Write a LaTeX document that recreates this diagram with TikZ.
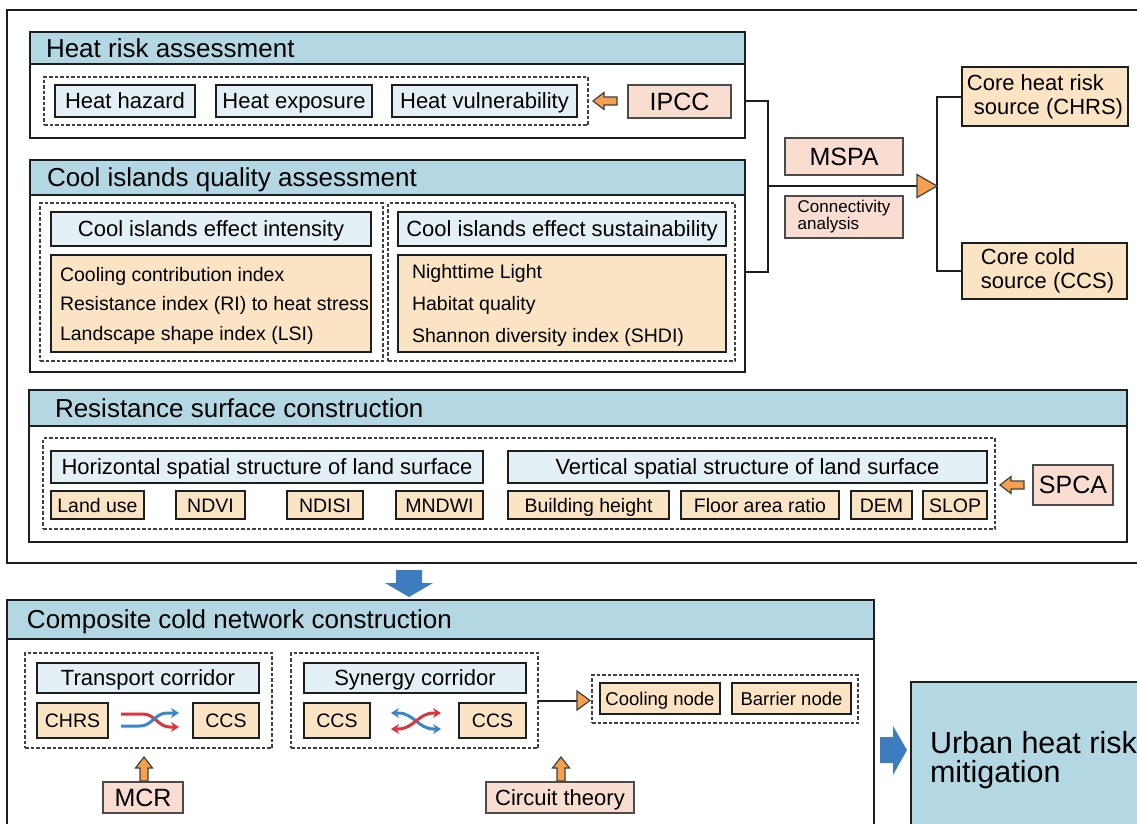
\documentclass[tikz,border=0pt]{standalone}
\usepackage{fontspec}
\setmainfont{Liberation Sans}
\usetikzlibrary{calc,arrows.meta}
\definecolor{hdr}{HTML}{B4D8E3}
\definecolor{lblue}{HTML}{E3F1F6}
\definecolor{tanb}{HTML}{FBE4C4}
\definecolor{pinkb}{HTML}{F9DDD0}
\definecolor{aor}{HTML}{F5A04E}
\definecolor{bluea}{HTML}{3E7CC0}
\definecolor{redi}{HTML}{D9363E}
\definecolor{bluei}{HTML}{3A86C8}
\definecolor{ink}{HTML}{1E1E1E}
\newcommand\fT{\fontsize{26}{30}\selectfont}
\newcommand\fH{\fontsize{22}{24}\selectfont}
\newcommand\fL{\fontsize{19.5}{23}\selectfont}
\newcommand\fS{\fontsize{18.5}{22}\selectfont}
\newcommand\fP{\fontsize{25}{28}\selectfont}
\newcommand\fU{\fontsize{30.5}{32}\selectfont}
\newcommand\fC{\fontsize{17}{15}\selectfont}
\newcommand\rbox[7]{\node[#6,minimum width={#4-#2},minimum height={#5-#3},inner sep=0pt,outer sep=0pt] (#1) at ({(#2+#4)/2},{(#3+#5)/2}) {#7};}
\tikzset{
  sec/.style={draw=ink,line width=2.4pt,fill=white},
  hdrs/.style={draw=ink,line width=2.4pt,fill=hdr},
  lb/.style={draw=ink,line width=2.2pt,fill=lblue},
  tb/.style={draw=ink,line width=2.2pt,fill=tanb},
  pb/.style={draw=ink!80,line width=1.6pt,fill=pinkb},
  dbox/.style={draw=ink!85,line width=1.1pt,dash pattern=on 3.5pt off 2pt},
  conn/.style={draw=ink,line width=2pt},
  tH/.style={font=\fH,text height=15.8pt,text depth=0pt},
  tL/.style={font=\fL,text height=14pt,text depth=0pt},
  tS/.style={font=\fS,text height=13.2pt,text depth=0pt},
  tP/.style={font=\fP,text height=17.9pt,text depth=0pt},
  trishape/.style={draw=ink!85,fill=aor,line width=1.2pt,line join=miter},
  txt/.style={inner sep=0pt,outer sep=0pt},
  oarr/.pic={\path[draw=ink!85,fill=aor,line width=1.2pt,line join=miter] (0,0) -- (11,-8.5) -- (11,-4) -- (24,-4) -- (24,4) -- (11,4) -- (11,8.5) -- cycle;},
  icon/.style={line width=3pt,-{Stealth[length=8pt,width=10pt]}},
  icon2/.style={line width=3pt,{Stealth[length=8pt,width=10pt]}-{Stealth[length=8pt,width=10pt]}}
}
\begin{document}
\begin{tikzpicture}[x=1pt,y=-1pt]
\useasboundingbox (0,0) rectangle (1137,823);
\fill[white] (0,0) rectangle (1137,823);
\clip (0,0) rectangle (1137,823);
% outer frame
\rbox{outer}{7}{10}{1150}{563}{sec}{}
% Heat risk assessment
\rbox{hrb}{30}{64}{745}{138}{sec}{}
\rbox{hrh}{30}{32}{745}{64}{hdrs}{}
\node[txt,anchor=base west,font=\fT] (hrt) at (46,57) {Heat risk assessment};
\rbox{hid}{44}{77}{588}{125}{dbox}{}
\rbox{hh}{55}{85}{195}{117}{lb,tH}{Heat hazard}
\rbox{he}{216}{85}{372}{117}{lb,tH}{Heat exposure}
\rbox{hv}{392}{85}{577}{117}{lb,tH}{Heat vulnerability}
\rbox{ipcc}{628}{85}{731}{118}{pb,tP}{IPCC}
\pic at (593,101) {oarr};
% Cool islands quality assessment
\rbox{cib}{30}{195}{745}{372}{sec}{}
\rbox{cih}{30}{160}{745}{195}{hdrs}{}
\node[txt,anchor=base west,font=\fT] (cit) at (47,186) {Cool islands quality assessment};
\rbox{cdl}{40}{203}{383}{361}{dbox}{}
\rbox{cdr}{388}{203}{735}{361}{dbox}{}
\rbox{cih1}{51}{212}{371}{246}{lb,tH}{Cool islands effect intensity}
\rbox{cih2}{398}{212}{726}{246}{lb,tH}{Cool islands effect sustainability}
\rbox{cil1}{51}{255}{371}{352}{tb}{}
\rbox{cil2}{398}{255}{726}{352}{tb}{}
\node[txt,anchor=base west,font=\fL] (ci1) at (60,281) {Cooling contribution index};
\node[txt,anchor=base west,font=\fL] (ci2) at (60,310) {Resistance index (RI) to heat stress};
\node[txt,anchor=base west,font=\fL] (ci3) at (60,340) {Landscape shape index (LSI)};
\node[txt,anchor=base west,font=\fL] (cs1) at (412,278) {Nighttime Light};
\node[txt,anchor=base west,font=\fL] (cs2) at (412,310) {Habitat quality};
\node[txt,anchor=base west,font=\fL] (cs3) at (412,342) {Shannon diversity index (SHDI)};
% MSPA and sources
\rbox{mspa}{785}{138}{903}{175}{pb,tP}{MSPA}
\rbox{conna}{785}{196}{903}{238}{pb,font=\fC,align=left}{Connectivity\\analysis}
\rbox{chrs}{962}{67}{1128}{126}{tb,font=\fH,align=left}{Core heat risk\\\hspace*{7pt}source (CHRS)}
\rbox{ccs}{962}{243}{1127}{299}{tb,font=\fH,align=left}{\hspace*{6pt}Core cold\\\hspace*{6pt}source (CCS)}
\coordinate (j1) at (768,186);
\coordinate (tb1) at (917,186);
\coordinate (tp1) at (937,186);
\draw[conn] (hrb.east) -| (j1) |- ([yshift=12pt]cib.east);
\draw[conn] (j1) -- (tb1);
\draw[conn] (chrs.west) -| (tp1) |- (ccs.west);
\draw[trishape] (917,174.5) -- (tp1) -- (917,197.5) -- cycle;
% Resistance surface construction
\rbox{rsb}{29}{426}{1127}{542}{sec}{}
\rbox{rsh}{29}{390}{1127}{426}{hdrs}{}
\node[txt,anchor=base west,font=\fT] (rst) at (55,417) {Resistance surface construction};
\rbox{rsd}{43}{438}{995}{529}{dbox}{}
\rbox{hor}{51}{451}{483}{483}{lb,tH}{Horizontal spatial structure of land surface}
\rbox{ver}{508}{451}{987}{483}{lb,tH}{Vertical spatial structure of land surface}
\rbox{lu}{51}{491}{144}{519}{tb,tL}{Land use}
\rbox{ndvi}{176}{491}{245}{519}{tb,tL}{NDVI}
\rbox{ndisi}{287}{491}{363}{519}{tb,tL}{NDISI}
\rbox{mndwi}{396}{491}{483}{519}{tb,tL}{MNDWI}
\rbox{bh}{508}{491}{669}{519}{tb,tL}{Building height}
\rbox{far}{681}{491}{839}{519}{tb,tL}{Floor area ratio}
\rbox{dem}{851}{491}{912}{519}{tb,tL}{DEM}
\rbox{slop}{923}{491}{987}{519}{tb,tL}{SLOP}
\rbox{spca}{1033}{465}{1113}{505}{pb,tP}{SPCA}
\pic at (1000,485) {oarr};
% blue down arrow
\path[fill=bluea] (396,570) -- (422,570) -- (422,583) -- (433,583) -- (409,597) -- (385,583) -- (396,583) -- cycle;
% Composite cold network construction
\rbox{ccb}{7}{639}{874}{850}{sec}{}
\rbox{cch}{7}{600}{874}{639}{hdrs}{}
\node[txt,anchor=base west,font=\fT] (cct) at (27,628) {Composite cold network construction};
\rbox{trd}{25}{653}{272}{748}{dbox}{}
\rbox{syd}{291}{653}{538}{748}{dbox}{}
\rbox{trh}{37}{663}{259}{693}{lb,tH}{Transport corridor}
\rbox{syh}{304}{663}{526}{693}{lb,tH}{Synergy corridor}
\rbox{c1}{37}{703}{108}{738}{tb,tL}{CHRS}
\rbox{c2}{193}{703}{259}{738}{tb,tL}{CCS}
\rbox{c3}{304}{703}{370}{738}{tb,tL}{CCS}
\rbox{c4}{459}{703}{526}{738}{tb,tL}{CCS}
\draw[icon,redi] (121,714) -- (143,714) .. controls (155,714) and (158,727) .. (170,727) -- (179,727);
\draw[icon,bluei] (121,726) -- (140,726) .. controls (152,726) and (155,713) .. (167,713) -- (179,713);
\draw[icon2,bluei] (391,713) -- (398,713) .. controls (414,713) and (418,729) .. (434,729) -- (441,729);
\draw[icon2,redi] (391,729) -- (398,729) .. controls (414,729) and (418,713) .. (434,713) -- (441,713);
\rbox{cnd}{592}{675}{858}{723}{dbox}{}
\rbox{cool}{600}{683}{720}{714}{tb,tS}{Cooling node}
\rbox{barr}{732}{683}{851}{714}{tb,tS}{Barrier node}
\coordinate (tb2) at (577,700.5);
\coordinate (tp2) at (590,700.5);
\draw[conn] (syd.east) -- (tb2);
\draw[trishape] (577,691) -- (tp2) -- (577,710) -- cycle;
\rbox{mcr}{103}{782}{183}{813}{pb,tP}{MCR}
\rbox{cir}{486}{782}{634}{813}{pb,tH}{Circuit theory}
\pic[rotate=-90] at (144,757) {oarr};
\pic[rotate=-90] at (561,757) {oarr};
% blue right arrow and final box
\path[fill=bluea] (880,737) -- (893,737) -- (893,726) -- (907,750) -- (893,775) -- (893,763) -- (880,763) -- cycle;
\rbox{urb}{911}{682}{1160}{850}{hdrs}{}
\node[txt,anchor=base west,font=\fU] (ur1) at (930,753) {Urban heat risk};
\node[txt,anchor=base west,font=\fU] (ur2) at (930,782) {mitigation};
\end{tikzpicture}
\end{document}
